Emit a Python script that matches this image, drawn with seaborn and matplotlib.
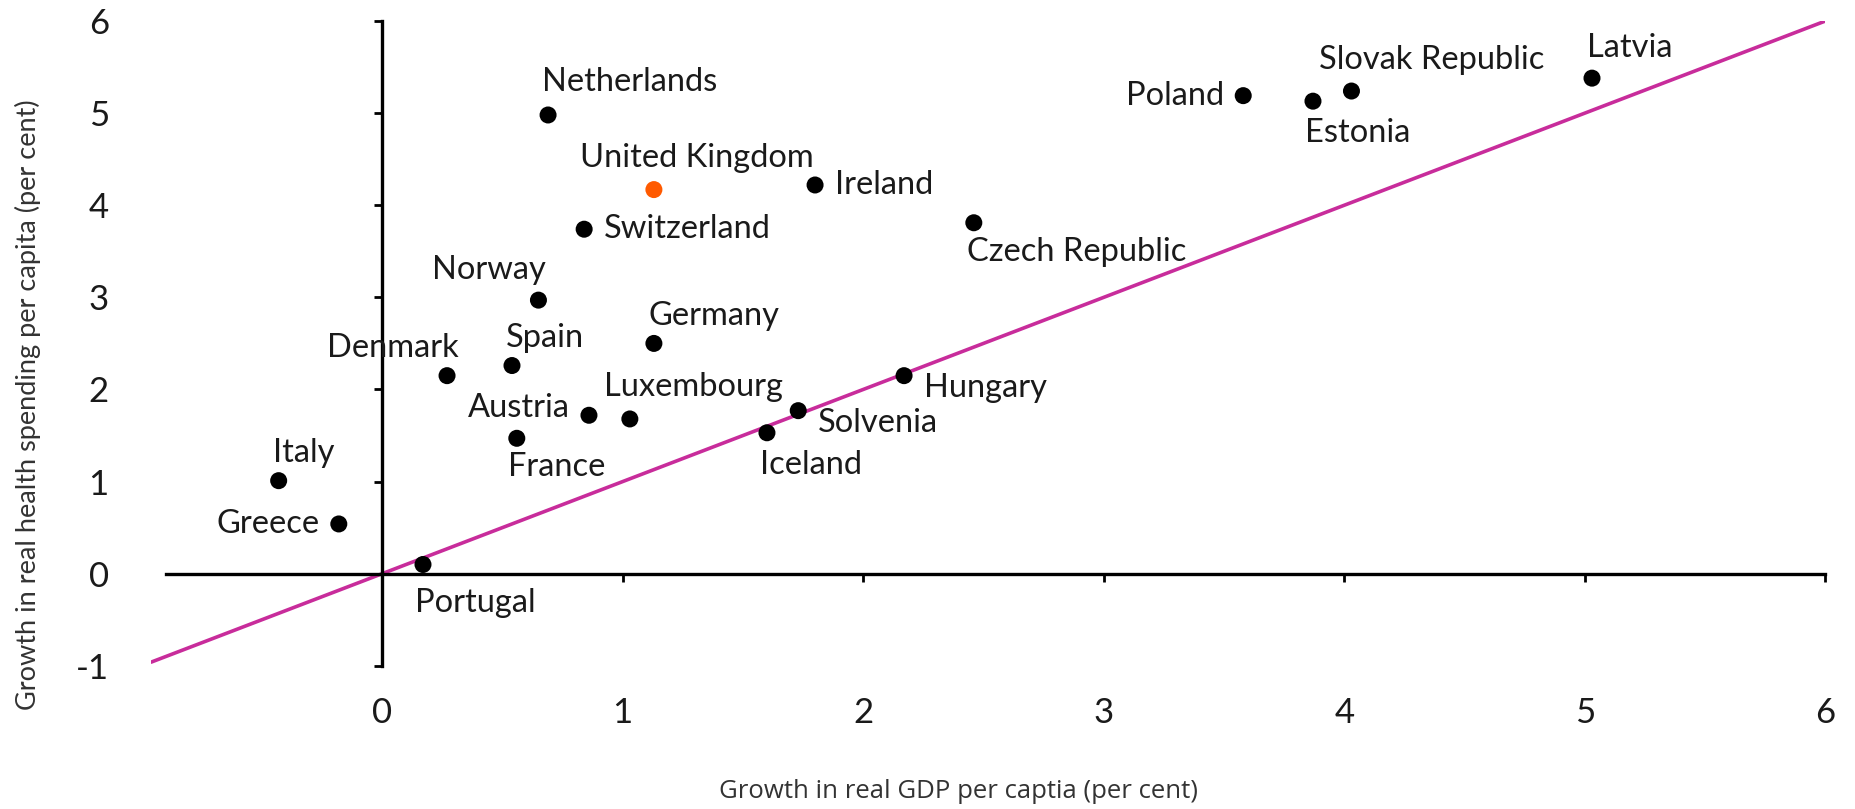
import matplotlib
matplotlib.use("Agg")
import matplotlib.pyplot as plt
import seaborn as sns
import pandas as pd

countries = ["Netherlands", "United Kingdom", "Ireland", "Switzerland", "Czech Republic",
             "Norway", "Germany", "Spain", "Denmark", "Hungary", "Luxembourg", "Austria",
             "Solvenia", "Iceland", "France", "Italy", "Greece", "Portugal", "Poland",
             "Estonia", "Slovak Republic", "Latvia"]
gdp_growth = [0.69, 1.13, 1.80, 0.84, 2.46, 0.65, 1.13, 0.54, 0.27, 2.17, 1.03, 0.86,
              1.73, 1.60, 0.56, -0.43, -0.18, 0.17, 3.58, 3.87, 4.03, 5.03]
health_growth = [4.98, 4.17, 4.22, 3.74, 3.81, 2.97, 2.50, 2.26, 2.15, 2.15, 1.68, 1.72,
                 1.77, 1.53, 1.47, 1.01, 0.54, 0.10, 5.19, 5.13, 5.24, 5.38]
highlight = ["United Kingdom"]

# label offsets in points and alignment
label_pos = {
    "Netherlands": (59, 24, "center"), "United Kingdom": (31, 23, "center"),
    "Ireland": (14, 0, "left"), "Switzerland": (14, 0, "left"),
    "Czech Republic": (74, -21, "center"), "Norway": (-36, 22, "center"),
    "Germany": (43, 20, "center"), "Spain": (24, 20, "center"),
    "Denmark": (-39, 20, "center"), "Hungary": (14, -9, "left"),
    "Luxembourg": (46, 23, "center"), "Austria": (-14, 5, "right"),
    "Solvenia": (14, -9, "left"), "Iceland": (32, -23, "center"),
    "France": (29, -21, "center"), "Italy": (18, 20, "center"),
    "Greece": (-14, 0, "right"), "Portugal": (38, -28, "center"),
    "Poland": (-14, 0, "right"), "Estonia": (32, -23, "center"),
    "Slovak Republic": (58, 22, "center"), "Latvia": (27, 22, "center"),
}

df = pd.DataFrame({"country": countries, "gdp": gdp_growth, "health": health_growth})
df["group"] = ["uk" if c in highlight else "other" for c in countries]

sns.set_theme(style="white")
plt.rcParams["font.family"] = ["Lato", "DejaVu Sans"]
plt.rcParams["axes.unicode_minus"] = False

fig = plt.figure(figsize=(18.55, 8.09), dpi=100)
ax = fig.add_axes([0.0815, 0.177, 0.9025, 0.797])

ax.axline((0, 0), slope=1, color="#C82C9B", lw=2.6, zorder=1)

sns.scatterplot(data=df, x="gdp", y="health", hue="group",
                palette={"other": "black", "uk": "#FF5A00"},
                s=150, edgecolor="none", legend=False, ax=ax, zorder=3)

for c, x, y in zip(countries, gdp_growth, health_growth):
    dx, dy, ha = label_pos[c]
    ax.annotate(c, (x, y), xytext=(dx, dy), textcoords="offset points",
                ha=ha, va="center", fontsize=23.5, color="#1a1a1a")

ax.set_xlim(-0.96, 6.0)
ax.set_ylim(-1, 6)

for s in ["top", "right"]:
    ax.spines[s].set_visible(False)
ax.spines["left"].set_position(("data", 0))
ax.spines["bottom"].set_position(("data", 0))
ax.spines["left"].set_bounds(-1, 6)
ax.spines["bottom"].set_bounds(-0.9, 6)
for s in ["left", "bottom"]:
    ax.spines[s].set_linewidth(2.4)
    ax.spines[s].set_color("black")
    ax.spines[s].set_zorder(2)

ax.set_xticks(range(0, 7))
ax.set_yticks(range(-1, 7))
ax.tick_params(axis="both", which="both", direction="out", length=6, width=2,
               color="black", labelbottom=False, labelleft=False, left=True, bottom=True)

# tick labels placed at the outer edge of the plot
secx = ax.secondary_xaxis(-0.04)
secx.set_xticks(range(0, 7))
secx.tick_params(length=0, labelsize=25, colors="#1a1a1a", pad=4)
secx.spines["bottom"].set_visible(False)
secy = ax.secondary_yaxis(-0.022)
secy.set_yticks(range(-1, 7))
secy.tick_params(length=0, labelsize=25, colors="#1a1a1a", pad=4)
secy.spines["left"].set_visible(False)

ax.set_xlabel("Growth in real GDP per captia (per cent)", fontsize=18.5,
              family=["Open Sans", "DejaVu Sans"], color="#333333")
ax.set_ylabel("Growth in real health spending per capita (per cent)", fontsize=19.5,
              color="#333333")
ax.xaxis.set_label_coords(0.482, -0.176)
ax.yaxis.set_label_coords(-0.066, 0.405)

fig.savefig("out.png", dpi=100)
